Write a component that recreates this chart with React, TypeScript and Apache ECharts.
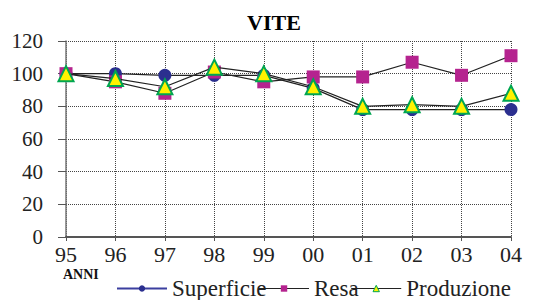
import React, { useEffect, useRef } from "react";
import * as echarts from "echarts";

const categories = ["95", "96", "97", "98", "99", "00", "01", "02", "03", "04"];
const superficie = [100, 100, 99, 99, 99, 91, 78, 78, 78, 78];
const resa = [100, 95, 88, 101, 95, 98, 98, 107, 99, 111];
const produzione = [100, 97, 92, 104, 100, 92, 80, 81, 80, 88];
const yTicks = [0, 20, 40, 60, 80, 100, 120];

const FONT = "Liberation Serif";

export default function App() {
  const ref = useRef<HTMLDivElement>(null);
  useEffect(() => {
    if (!ref.current) return;
    const chart = echarts.init(ref.current, undefined, { renderer: "svg" });
    chart.setOption({
      animation: false,
      backgroundColor: "#ffffff",
      textStyle: { fontFamily: FONT },
      title: {
        text: "VITE",
        left: 269,
        top: 6,
        textAlign: "center",
        textStyle: { fontFamily: FONT, fontWeight: "bold", fontSize: 22, color: "#000" },
      },
      grid: { left: 66, right: 31, top: 41, bottom: 63, containLabel: false },
      xAxis: {
        type: "category",
        data: categories,
        boundaryGap: false,
        axisLine: { show: true, lineStyle: { color: "#555", width: 2 } },
        axisTick: { show: true, length: 4, lineStyle: { color: "#555" } },
        axisLabel: { fontFamily: FONT, fontSize: 22, lineHeight: 22, color: "#222", margin: 6 },
        splitLine: { show: true, lineStyle: { type: "dotted", color: "#444", width: 1 } },
      },
      yAxis: {
        type: "value",
        min: 0,
        max: 120,
        interval: 20,
        axisLine: { show: true, lineStyle: { color: "#777", width: 1.5 } },
        axisTick: { show: true, inside: false, length: 8, lineStyle: { color: "#555" } },
        axisLabel: {
          fontFamily: FONT,
          fontSize: 21,
          color: "#222",
          margin: 23,
          formatter: (v: number) => (yTicks.includes(v) ? String(v) : ""),
        },
        splitLine: { show: true, lineStyle: { type: "dotted", color: "#444", width: 1 } },
      },
      legend: {
        top: 272,
        left: 111,
        itemWidth: 50,
        itemHeight: 8,
        itemGap: -8,
        textStyle: { fontFamily: FONT, fontSize: 23, color: "#222", padding: [0, 0, 0, 0] },
        data: [
          {
            name: "Superficie",
            itemStyle: { color: "#2b2f8f", borderWidth: 0 },
            lineStyle: { color: "#3b3f9f", width: 2 },
          },
          {
            name: "Resa",
            itemStyle: { color: "#b5238f", borderWidth: 0 },
            lineStyle: { color: "#222", width: 1 },
          },
          {
            name: "Produzione",
            itemStyle: { color: "#fff200", borderColor: "#00a651", borderWidth: 1 },
            lineStyle: { color: "#222", width: 1 },
          },
        ],
      },
      graphic: [
        {
          type: "text",
          left: 63,
          top: 267,
          style: { text: "ANNI", fontFamily: FONT, fontWeight: "bold", fontSize: 14, fill: "#111" },
        },
      ],
      series: [
        {
          name: "Superficie",
          type: "line",
          data: superficie,
          symbol: "circle",
          symbolSize: 13,
          itemStyle: { color: "#2b2f8f", borderWidth: 0 },
          lineStyle: { color: "#222", width: 1.2 },
          z: 2,
        },
        {
          name: "Resa",
          type: "line",
          data: resa,
          symbol: "rect",
          symbolSize: 13,
          itemStyle: { color: "#b5238f", borderWidth: 0 },
          lineStyle: { color: "#222", width: 1.2 },
          z: 3,
        },
        {
          name: "Produzione",
          type: "line",
          data: produzione,
          symbol: "triangle",
          symbolSize: 15,
          itemStyle: { color: "#fff200", borderColor: "#00a651", borderWidth: 2 },
          lineStyle: { color: "#222", width: 1.2 },
          z: 4,
        },
      ],
    });
    return () => chart.dispose();
  }, []);
  return <div ref={ref} style={{ width: 542, height: 300, position: "absolute", left: 0, top: 0 }} />;
}
